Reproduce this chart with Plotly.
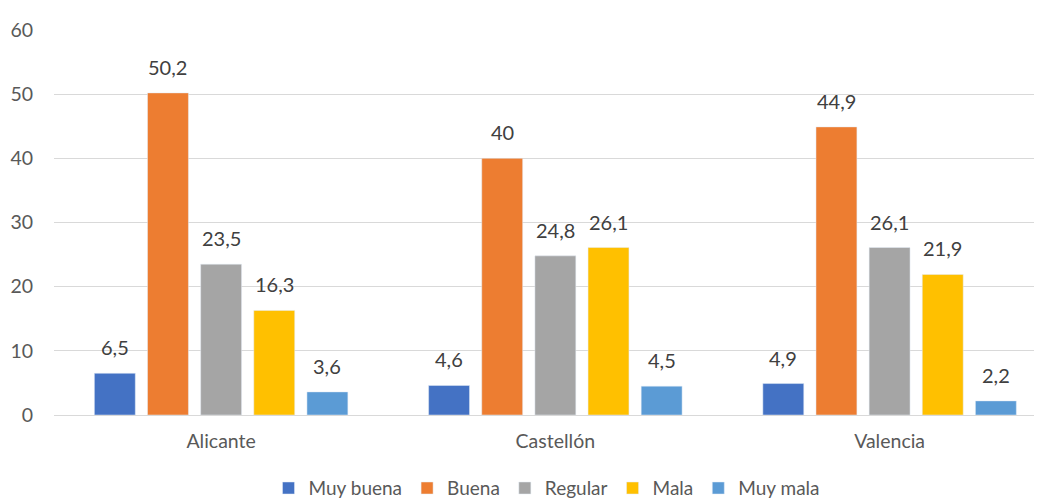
import plotly.graph_objects as go

provincias = ["Alicante", "Castellón", "Valencia"]
series = ["Muy buena", "Buena", "Regular", "Mala", "Muy mala"]
muy_buena = [6.5, 4.6, 4.9]
buena = [50.2, 40, 44.9]
regular = [23.5, 24.8, 26.1]
mala = [16.3, 26.1, 21.9]
muy_mala = [3.6, 4.5, 2.2]
colores = ["#4472C4", "#ED7D31", "#A5A5A5", "#FFC000", "#5B9BD5"]

valores = [muy_buena, buena, regular, mala, muy_mala]
bargap = 0.205
paso = (1 - bargap) / len(series)  # ancho de cada hueco de barra dentro del grupo

fig = go.Figure()
for i, (nombre, vals, col) in enumerate(zip(series, valores, colores)):
    fig.add_trace(go.Bar(x=provincias, y=vals, name=nombre, marker_color=col))
    # etiquetas de datos separadas de la barra como en Excel
    for j, v in enumerate(vals):
        fig.add_annotation(x=j + (i - 2) * paso, y=v, text=str(v).replace(".", ","),
                           showarrow=False, yanchor="bottom", yshift=12,
                           font=dict(size=20, color="#404040"))

# la pagina deja 8px de margen en el body
fig.update_layout(
    width=1034, height=491,
    margin=dict(l=46, r=2, t=22, b=84, autoexpand=False),
    plot_bgcolor="white", paper_bgcolor="white",
    font=dict(family="Lato, Open Sans, sans-serif", size=19.5, color="#595959"),
    bargap=bargap, bargroupgap=0.23,
    legend=dict(orientation="h", x=0.5, xanchor="center", y=-0.19, yanchor="middle",
                font=dict(size=19, color="#595959"), itemwidth=30, traceorder="normal"),
    showlegend=True,
)
fig.update_xaxes(range=[-0.5, 2.45], showgrid=False, showline=True,
                 linecolor="#d9d9d9", linewidth=1, ticks="", ticklabelstandoff=9,
                 automargin=False)
fig.update_yaxes(range=[0, 60], dtick=10, showgrid=True, gridcolor="#d9d9d9",
                 gridwidth=1, zeroline=False, showline=False, ticklabelstandoff=20,
                 automargin=False)

fig.write_html("out.html")
